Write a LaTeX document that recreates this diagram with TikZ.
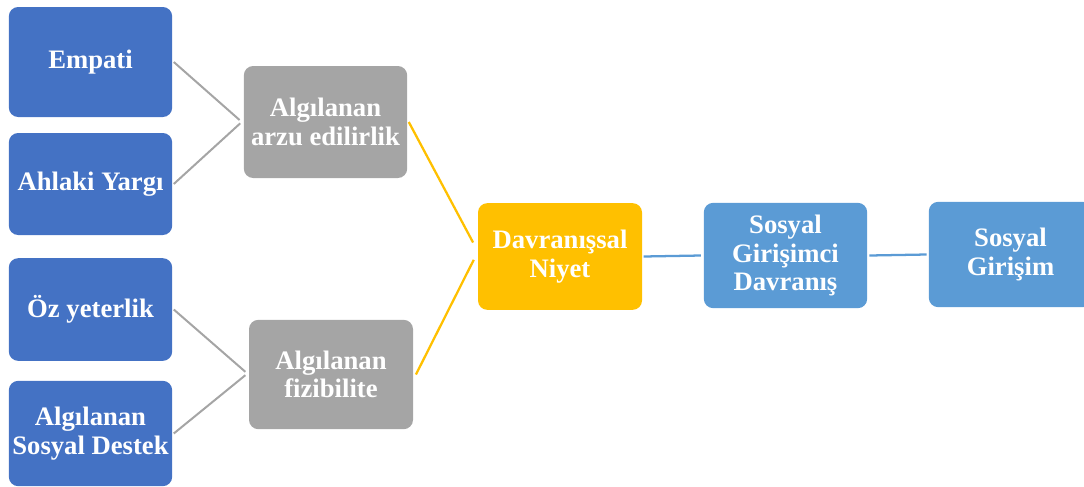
\documentclass[tikz,border=0pt]{standalone}
\usepackage{fontspec}
\setmainfont{Liberation Serif}

\definecolor{modelmavi}{HTML}{4472C4}
\definecolor{modelacik}{HTML}{5B9BD5}
\definecolor{modelgri}{HTML}{A5A5A5}
\definecolor{modelaltin}{HTML}{FFC000}

\tikzset{
  kutu/.style={rounded corners=7pt, inner sep=0pt, align=center, text=white,
               font=\bfseries\fontsize{20}{21.5}\selectfont,
               minimum width=122.5pt},
  onculkutu/.style={kutu, fill=modelmavi},
  aracikutu/.style={kutu, fill=modelgri},
  niyetkutu/.style={kutu, fill=modelaltin},
  sonuckutu/.style={kutu, fill=modelacik},
  gribag/.style={draw=modelgri, line width=1.5pt},
  altinbag/.style={draw=modelaltin, line width=1.7pt},
  mavibag/.style={draw=modelacik, line width=1.7pt}
}

\begin{document}
\begin{tikzpicture}[x=0.75pt, y=-0.75pt]
\useasboundingbox (0,0) rectangle (1084,486);

% oncul degiskenler
\node[onculkutu, minimum height=82.5pt] (empati) at (90.5,62) {Empati};
\node[onculkutu, minimum height=76.5pt] (ahlak) at (90.5,184) {Ahlaki Yargı};
\node[onculkutu, minimum height=77pt] (ozyet) at (90.5,309.5) {Öz yeterlik};
\node[onculkutu, minimum height=79pt] (destek) at (90.5,433.5) {Algılanan\\Sosyal Destek};

% algilar
\node[aracikutu, minimum height=84pt] (arzu) at (325.5,122) {Algılanan\\arzu edilirlik};
\node[aracikutu, minimum height=82pt, minimum width=123pt] (fizib) at (331,374.5) {Algılanan\\fizibilite};

% niyet ve sonuclar
\node[niyetkutu, minimum height=80pt, minimum width=123pt] (niyet) at (560,256.5) {Davranışsal\\Niyet};
\node[sonuckutu, minimum height=79pt] (davranis) at (785.5,255.5) {Sosyal\\Girişimci\\Davranış};
\node[sonuckutu, minimum height=79pt] (girisim) at (1010.5,254.5) {Sosyal\\Girişim};

\draw[gribag] ([xshift=1pt]empati.east) -- ([xshift=-3pt,yshift=1.5pt]arzu.west);
\draw[gribag] ([xshift=1pt]ahlak.east) -- ([xshift=-2.5pt,yshift=-1pt]arzu.west);
\draw[gribag] ([xshift=1pt]ozyet.east) -- ([xshift=-2.5pt,yshift=2pt]fizib.west);
\draw[gribag] ([xshift=1pt]destek.east) -- ([xshift=-2.5pt,yshift=-0.5pt]fizib.west);

\draw[altinbag] ([xshift=1pt]arzu.east) -- ([xshift=-3.5pt,yshift=10.5pt]niyet.west);
\draw[altinbag] ([xshift=2pt]fizib.east) -- ([xshift=-3pt,yshift=-2.5pt]niyet.west);

\draw[mavibag] ([xshift=1pt]niyet.east) -- ([xshift=-2pt]davranis.west);
\draw[mavibag] ([xshift=1.5pt]davranis.east) -- ([xshift=-1.5pt]girisim.west);
\end{tikzpicture}
\end{document}
